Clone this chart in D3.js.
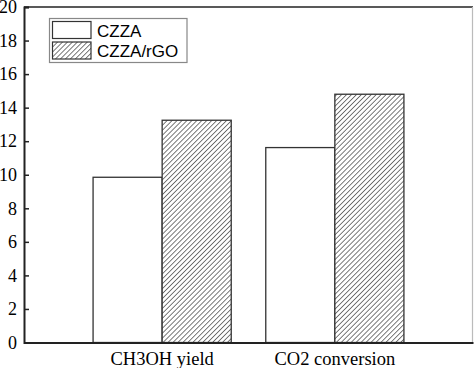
<!DOCTYPE html>
<html><head><meta charset="utf-8">
<script src="https://cdn.jsdelivr.net/npm/d3@7"></script>
<style>html,body{margin:0;padding:0;background:#fff;}</style>
</head><body>
<script>
const categories = ["CH3OH yield", "CO2 conversion"];
const seriesNames = ["CZZA", "CZZA/rGO"];
const czzaValues = [9.85, 11.62];
const czzaRgoValues = [13.25, 14.8];
const yTicks = [0, 2, 4, 6, 8, 10, 12, 14, 16, 18, 20];

const W = 474, H = 368;
const m = {left: 24, right: 1, top: 7, bottom: 25.5};
const svg = d3.select("body").append("svg").attr("width", W).attr("height", H);

const defs = svg.append("defs");
const pat = defs.append("pattern").attr("id", "hatch").attr("patternUnits", "userSpaceOnUse")
  .attr("width", 3.5).attr("height", 3.5).attr("patternTransform", "rotate(45)");
pat.append("rect").attr("width", 3.5).attr("height", 3.5).attr("fill", "#fff");
pat.append("line").attr("x1", 0).attr("y1", 0).attr("x2", 0).attr("y2", 3.5)
  .attr("stroke", "#222").attr("stroke-width", 1.2);

const x0 = d3.scaleBand().domain(categories).range([m.left, W - m.right])
  .paddingInner(0.2).paddingOuter(0.4);
const x1 = d3.scaleBand().domain(seriesNames).range([0, x0.bandwidth()]);
const y = d3.scaleLinear().domain([0, 20]).range([H - m.bottom, m.top]);

const data = categories.map((c, i) => ({cat: c, vals: [
  {s: seriesNames[0], v: czzaValues[i]},
  {s: seriesNames[1], v: czzaRgoValues[i]}]}));

// frame
svg.append("line").attr("x1", m.left).attr("x2", W - m.right).attr("y1", y(20)).attr("y2", y(20))
  .attr("stroke", "#222").attr("stroke-width", 1.5);
svg.append("line").attr("x1", W - m.right - 0.5).attr("x2", W - m.right - 0.5).attr("y1", y(20)).attr("y2", y(0))
  .attr("stroke", "#bbb").attr("stroke-width", 1.2);

// bars
const g = svg.append("g");
data.forEach(d => {
  g.selectAll(null).data(d.vals).enter().append("rect")
    .attr("x", e => x0(d.cat) + x1(e.s))
    .attr("y", e => y(e.v))
    .attr("width", x1.bandwidth())
    .attr("height", e => y(0) - y(e.v))
    .attr("fill", e => e.s === seriesNames[0] ? "#fff" : "url(#hatch)")
    .attr("stroke", "#333").attr("stroke-width", 1.3);
});

// y axis
const yAxis = d3.axisLeft(y).tickValues(yTicks).tickSize(-5).tickPadding(12).tickFormat(d3.format("d"));
const ya = svg.append("g").attr("transform", `translate(${m.left},0)`).call(yAxis);
ya.select(".domain").attr("stroke", "#222").attr("stroke-width", 2);
ya.selectAll(".tick line").attr("stroke", "#222").attr("stroke-width", 1.5);
ya.selectAll(".tick text").attr("font-family", "'Liberation Serif', 'Times New Roman', serif")
  .attr("font-size", 18).attr("fill", "#000").attr("x", -7);

// x axis
const xAxis = d3.axisBottom(x0).tickSize(0).tickPadding(9);
const xa = svg.append("g").attr("transform", `translate(0,${y(0)})`).call(xAxis);
xa.select(".domain").attr("stroke", "#222").attr("stroke-width", 2);
xa.selectAll(".tick text").attr("font-family", "'Liberation Serif', 'Times New Roman', serif")
  .attr("font-size", 18.5).attr("fill", "#000");

// legend
const lg = svg.append("g");
lg.append("rect").attr("x", 49.5).attr("y", 18.5).attr("width", 137.5).attr("height", 44)
  .attr("fill", "#fff").attr("stroke", "#888").attr("stroke-width", 1.2);
seriesNames.forEach((s, i) => {
  const yy = 21.5 + i * 20.5;
  lg.append("rect").attr("x", 52.5).attr("y", yy).attr("width", 38.5).attr("height", 17)
    .attr("fill", i === 0 ? "#fff" : "url(#hatch)").attr("stroke", "#333").attr("stroke-width", 1.2);
  lg.append("text").attr("x", 97).attr("y", yy + 15)
    .attr("font-family", "'Liberation Sans', Arial, sans-serif").attr("font-size", 17)
    .attr("fill", "#000").text(s);
});
</script>
</body></html>
